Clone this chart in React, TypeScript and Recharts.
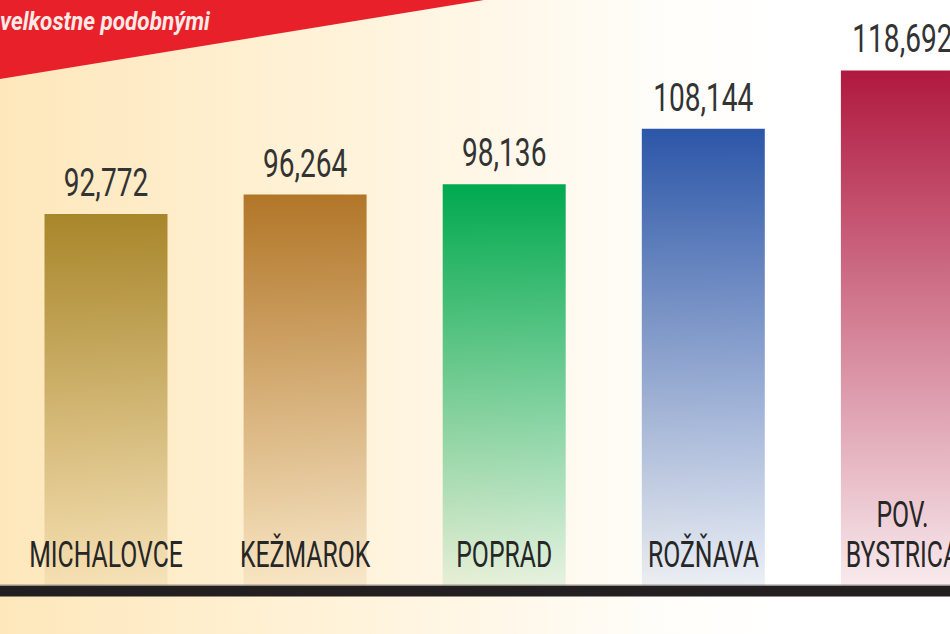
import React from 'react';
import { BarChart, Bar, XAxis, YAxis, LabelList, Cell } from 'recharts';

const categories = ['MICHALOVCE', 'KEŽMAROK', 'POPRAD', 'ROŽŇAVA', 'POV.\nBYSTRICA'];
const values = [92.772, 96.264, 98.136, 108.144, 118.692];
const barColors = ['#a8862a', '#b27628', '#00a94f', '#2c56a8', '#b0183f'];
const bannerText = 'velkostne podobnými';

const data = categories.map((name, i) => ({ name, value: values[i] }));

const fmt = (v: number) => v.toFixed(3).replace('.', ',');

const FONT = "Roboto, 'DejaVu Sans', sans-serif";

const ValueLabel = (props: any) => {
  const { x, y, width, value } = props;
  const cx = Number(x) + Number(width) / 2;
  const by = Number(y) - 18;
  return (
    <text
      transform={`translate(${cx},${by}) scale(0.72,1)`}
      x={0}
      y={0}
      textAnchor="middle"
      fontFamily={FONT}
      fontWeight={400}
      fontSize={39}
      fill="#333333"
    >
      {fmt(Number(value))}
    </text>
  );
};

const CategoryTick = (props: any) => {
  const { x, y, payload } = props;
  const lines = String(payload.value).split('\n');
  const base = Number(y) - 24;
  return (
    <g>
      {lines.map((ln, i) => (
        <text
          key={i}
          transform={`translate(${x},${base - (lines.length - 1 - i) * 40}) scale(0.67,1)`}
          x={0}
          y={0}
          textAnchor="middle"
          fontFamily={FONT}
          fontWeight={400}
          fontSize={37}
          fill="#262626"
        >
          {ln}
        </text>
      ))}
    </g>
  );
};

export default function App() {
  return (
    <div
      style={{
        position: 'fixed',
        left: 0,
        top: 0,
        width: 950,
        height: 634,
        overflow: 'hidden',
        background:
          'linear-gradient(to right, #fee7bb 0%, #fff1d4 30%, #fff7e8 52%, #fffdf8 68%, #ffffff 82%)',
      }}
    >
      <BarChart
        width={1002}
        height={634}
        data={data}
        margin={{ top: 0, right: 0, left: 0, bottom: 0 }}
      >
        <defs>
          {barColors.map((c, i) => (
            <linearGradient key={i} id={`grad-${i}`} x1="0" y1="0" x2="0" y2="1">
              <stop offset="0%" stopColor={c} stopOpacity={1} />
              <stop offset="100%" stopColor={c} stopOpacity={0.08} />
            </linearGradient>
          ))}
        </defs>
        <YAxis hide domain={[24.7, 131.4]} allowDataOverflow />
        <Bar dataKey="value" barSize={123} isAnimationActive={false}>
          {data.map((d, i) => (
            <Cell key={d.name} fill={`url(#grad-${i})`} />
          ))}
          <LabelList dataKey="value" content={ValueLabel} />
        </Bar>
        <XAxis
          dataKey="name"
          height={43}
          padding={{ left: 6.5, right: 0 }}
          tickLine={false}
          tickSize={0}
          tickMargin={0}
          interval={0}
          axisLine={{ stroke: '#231f20', strokeWidth: 11 }}
          tick={CategoryTick}
        />
      </BarChart>
      <svg
        width={950}
        height={634}
        style={{ position: 'absolute', left: 0, top: 0, pointerEvents: 'none' }}
      >
        <line x1={0} y1={585} x2={950} y2={585} stroke="#9a9590" strokeWidth={1} />
        <polygon points="0,0 484,0 0,79" fill="#e8202a" />
        <text
          transform="translate(0,30) scale(0.9,1)"
          x={0}
          y={0}
          fontFamily={FONT}
          fontWeight={700}
          fontStyle="italic"
          fontSize={25}
          fill="#fde9e6"
        >
          {bannerText}
        </text>
      </svg>
    </div>
  );
}
